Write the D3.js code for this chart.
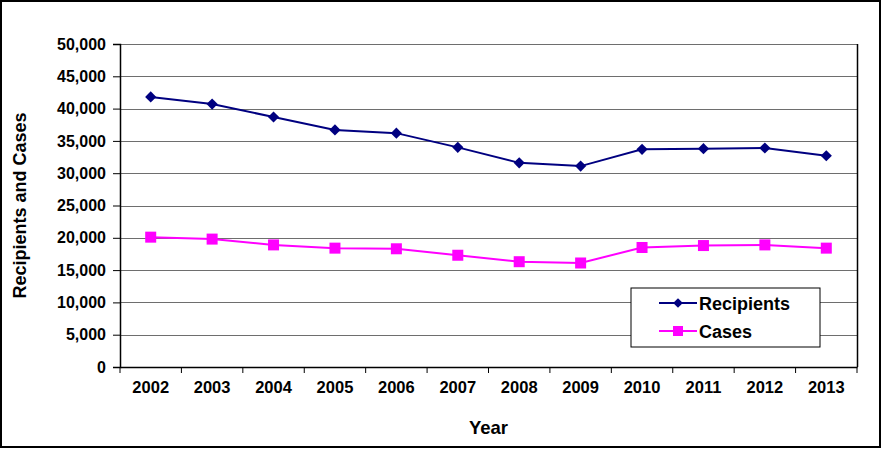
<!DOCTYPE html>
<html>
<head>
<meta charset="utf-8">
<script src="https://cdn.jsdelivr.net/npm/d3@7"></script>
<style>
body { margin: 0; background: #fff; }
text { font-family: Arial, "Liberation Sans", sans-serif; font-weight: bold; fill: #000; }
</style>
</head>
<body>
<div id="chart"></div>
<script>
const years = ['2002', '2003', '2004', '2005', '2006', '2007', '2008', '2009', '2010', '2011', '2012', '2013'];
const recipients = [41800, 40700, 38700, 36700, 36200, 34000, 31600, 31100, 33700, 33800, 33900, 32700];
const cases = [20100, 19800, 18900, 18400, 18300, 17300, 16300, 16100, 18500, 18800, 18900, 18400];
const yTicks = [0, 5000, 10000, 15000, 20000, 25000, 30000, 35000, 40000, 45000, 50000];

const width = 881, height = 449;
const margin = { top: 44, right: 24, bottom: 82, left: 120 };

const svg = d3.select('#chart')
    .append('svg')
    .attr('width', width)
    .attr('height', height);

// outer frame
svg.append('rect')
    .attr('x', 1).attr('y', 1)
    .attr('width', width - 2).attr('height', height - 3)
    .attr('fill', 'none').attr('stroke', '#000').attr('stroke-width', 2);

const x = d3.scaleBand()
    .domain(years)
    .range([margin.left, width - margin.right]);

const y = d3.scaleLinear()
    .domain([0, 50000])
    .range([height - margin.bottom, margin.top]);

// gridlines
svg.append('g')
    .selectAll('line')
    .data(yTicks.filter(d => d > 0))
    .join('line')
    .attr('x1', margin.left).attr('x2', width - margin.right)
    .attr('y1', d => Math.round(y(d)) + 0.5).attr('y2', d => Math.round(y(d)) + 0.5)
    .attr('stroke', '#6e6e6e').attr('stroke-width', 1);

// right border of plot
svg.append('line')
    .attr('x1', width - margin.right + 0.5).attr('x2', width - margin.right + 0.5)
    .attr('y1', margin.top).attr('y2', y(0))
    .attr('stroke', '#000').attr('stroke-width', 1.5);

// y axis
const yAxis = svg.append('g')
    .attr('transform', `translate(${margin.left},0)`)
    .call(d3.axisLeft(y).tickValues(yTicks).tickFormat(d3.format(',')).tickSize(7).tickPadding(7));
yAxis.select('.domain').attr('stroke', '#000').attr('stroke-width', 1.5);
yAxis.selectAll('.tick line').attr('stroke', '#000');
yAxis.selectAll('text').style('font-size', '16px').style('font-weight', 'bold').attr('fill', '#000');

// x axis
const xAxis = svg.append('g')
    .attr('transform', `translate(0,${y(0)})`)
    .call(d3.axisBottom(x).tickSize(0).tickPadding(14));
xAxis.select('.domain').attr('stroke', '#000').attr('stroke-width', 1.5);
xAxis.selectAll('text').style('font-size', '16.5px').style('font-weight', 'bold').attr('fill', '#000');
svg.append('g')
    .selectAll('line')
    .data(years.concat(['end']))
    .join('line')
    .attr('x1', (d, i) => margin.left + i * x.bandwidth())
    .attr('x2', (d, i) => margin.left + i * x.bandwidth())
    .attr('y1', y(0)).attr('y2', y(0) + 6)
    .attr('stroke', '#000');

// titles
svg.append('text')
    .attr('x', (margin.left + width - margin.right) / 2)
    .attr('y', 434)
    .attr('text-anchor', 'middle')
    .style('font-size', '18.5px')
    .text('Year');

svg.append('text')
    .attr('transform', `translate(26,${(margin.top + y(0)) / 2}) rotate(-90)`)
    .attr('text-anchor', 'middle')
    .style('font-size', '18px')
    .text('Recipients and Cases');

const cx = d => x(d) + x.bandwidth() / 2;
const line = vals => d3.line().x((d, i) => cx(years[i])).y(d => y(d))(vals);

// Recipients
svg.append('path')
    .attr('d', line(recipients))
    .attr('fill', 'none').attr('stroke', '#000080').attr('stroke-width', 2);
svg.append('g')
    .selectAll('path')
    .data(recipients)
    .join('path')
    .attr('transform', (d, i) => `translate(${cx(years[i])},${y(d)})`)
    .attr('d', d3.symbol(d3.symbolDiamond2, 80)())
    .attr('fill', '#000080');

// Cases
svg.append('path')
    .attr('d', line(cases))
    .attr('fill', 'none').attr('stroke', '#ff00ff').attr('stroke-width', 2);
svg.append('g')
    .selectAll('rect')
    .data(cases)
    .join('rect')
    .attr('x', (d, i) => cx(years[i]) - 5.5)
    .attr('y', d => y(d) - 5.5)
    .attr('width', 11).attr('height', 11)
    .attr('fill', '#ff00ff');

// legend
const legend = svg.append('g').attr('transform', 'translate(631,288)');
legend.append('rect')
    .attr('width', 189).attr('height', 59)
    .attr('fill', '#fff').attr('stroke', '#000').attr('stroke-width', 1);
const items = [
    { name: 'Recipients', color: '#000080', ty: 15 },
    { name: 'Cases', color: '#ff00ff', ty: 43 }
];
items.forEach(it => {
    legend.append('line')
        .attr('x1', 28).attr('x2', 66).attr('y1', it.ty).attr('y2', it.ty)
        .attr('stroke', it.color).attr('stroke-width', 2);
    legend.append('text')
        .attr('x', 68).attr('y', it.ty + 6.5)
        .style('font-size', '18px')
        .text(it.name);
});
legend.append('path')
    .attr('transform', 'translate(47,15)')
    .attr('d', d3.symbol(d3.symbolDiamond2, 60)())
    .attr('fill', '#000080');
legend.append('rect')
    .attr('x', 42).attr('y', 38).attr('width', 10).attr('height', 10)
    .attr('fill', '#ff00ff');
</script>
</body>
</html>
